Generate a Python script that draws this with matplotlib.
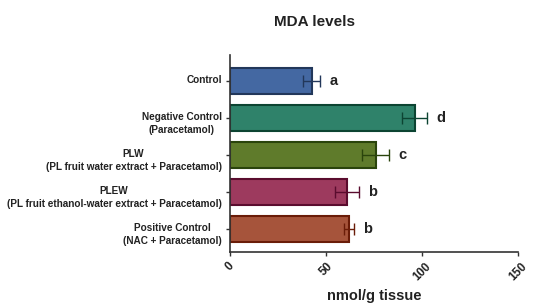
import matplotlib
matplotlib.use('Agg')
import matplotlib.pyplot as plt
import numpy as np

plt.rcParams['font.family'] = ['Liberation Sans', 'DejaVu Sans']

# === DATA ===
groups = ['Control',
          'Negative Control\n(Paracetamol)',
          'PLW\n(PL fruit water extract + Paracetamol)',
          'PLEW\n(PL fruit ethanol-water extract + Paracetamol)',
          'Positive Control\n(NAC + Paracetamol)']
means = [42.5, 96.2, 75.8, 61.0, 62.1]
errors = [4.5, 6.5, 6.8, 6.4, 2.6]
letters = ['a', 'd', 'c', 'b', 'b']
xticks = [0, 50, 100, 150]

fills = ['#4468A2', '#2F826A', '#5F7B2B', '#9D3A5E', '#A6543B']
edges = ['#22375A', '#0C4432', '#2A440C', '#5A0C2E', '#6A1C08']

fig = plt.figure(figsize=(5.33, 3.05), dpi=100)
ax = fig.add_axes([230 / 533, 1 - 252 / 305, 288 / 533, 197 / 305])

y = np.arange(len(groups))
ax.barh(y, means, height=0.68, color=fills, edgecolor=edges, linewidth=1.5, zorder=2)
for i in range(len(groups)):
    ax.errorbar(means[i], y[i], xerr=errors[i], fmt='none', ecolor=edges[i],
                elinewidth=1.0, capsize=4.5, capthick=1.0, zorder=3)
    ax.text(means[i] + errors[i] + 7, y[i], letters[i], ha='center', va='center',
            fontsize=10.5, fontweight='bold', color='#222222')

# y labels: first line sits on its tick (Prism style)
ax.set_yticks(y)
ax.set_yticklabels([])
for i, g in enumerate(groups):
    ax.annotate(g, xy=(0, y[i]), xycoords=('axes fraction', 'data'),
                xytext=(-6, 4.2), textcoords='offset points',
                ha='right', va='top', multialignment='center', linespacing=1.4,
                fontsize=7.2, fontweight='bold', color='#222222')

ax.set_xticks(xticks)
ax.set_xticklabels([str(t) for t in xticks], rotation=45, fontsize=8.5,
                   fontweight='bold', color='#222222', ha='center', va='top')
ax.set_xlim(0, 150)
ax.set_ylim(4.62, -0.70)

for s in ['top', 'right']:
    ax.spines[s].set_visible(False)
for s in ['left', 'bottom']:
    ax.spines[s].set_color('#333333')
    ax.spines[s].set_linewidth(1.2)
ax.tick_params(axis='both', direction='out', length=3, width=1, color='#333333')
ax.tick_params(axis='x', pad=3)

fig.text(374 / 533, 1 - 296 / 305, 'nmol/g tissue', ha='center', va='center',
         fontsize=10.5, fontweight='bold', color='#222222')
fig.text(314 / 533, 1 - 22 / 305, 'MDA levels', ha='center', va='center',
         fontsize=11, fontweight='bold', color='#222222')

plt.savefig('out.png', dpi=100)
plt.close()
